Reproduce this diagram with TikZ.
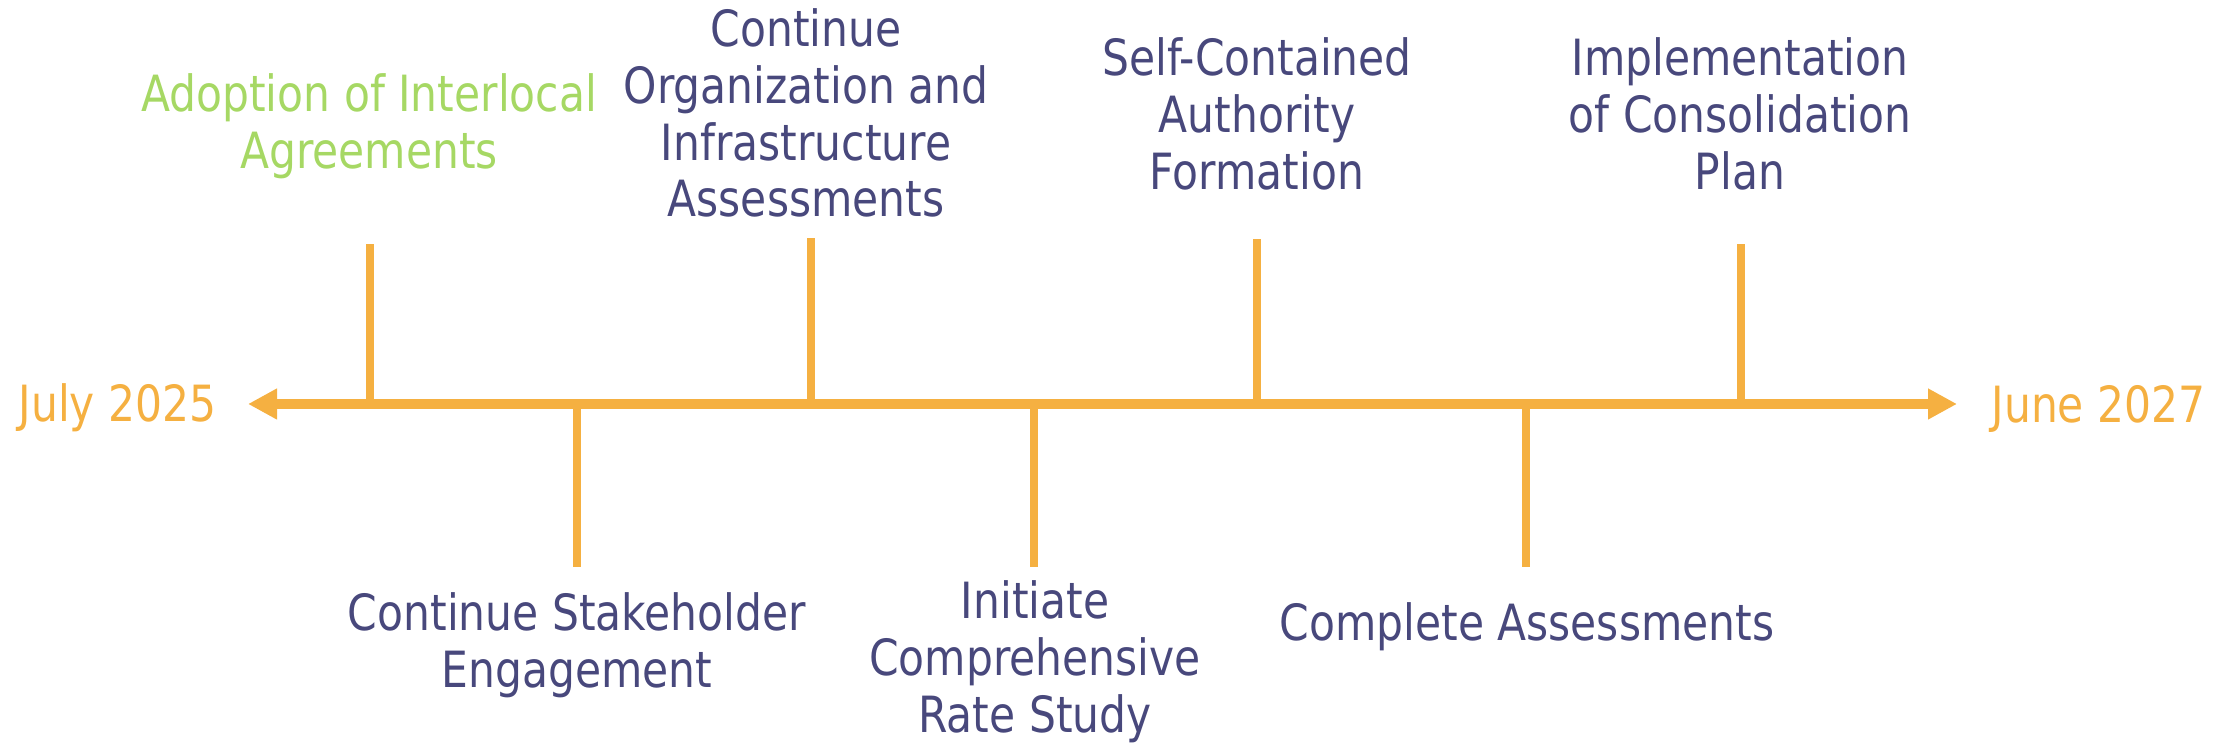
\documentclass[tikz,border=0pt]{standalone}
\usepackage{fontspec}
\setmainfont{DejaVu Sans}[FakeStretch=0.85]
\usetikzlibrary{positioning,arrows.meta,calc}
\definecolor{lineorange}{HTML}{F5B041}
\definecolor{stepgreen}{HTML}{A6D864}
\definecolor{stepblue}{HTML}{48487C}

\begin{document}
\begin{tikzpicture}[
    font=\fontsize{14.2}{16.2}\selectfont,
    milestone/.style={text=stepblue, align=center, inner sep=0pt},
    datelabel/.style={text=lineorange, inner sep=0pt},
    stem/.style={draw=lineorange, line width=0.085cm}
]

    \useasboundingbox (0,0) rectangle (22.34,7.45);

    % Time axis with arrow heads at both ends
    \coordinate (start) at (2.48,3.41);
    \coordinate (end) at (19.57,3.41);
    \draw[
        draw=lineorange,
        line width=0.095cm,
        {Triangle[length=0.29cm,width=0.29cm]}-{Triangle[length=0.29cm,width=0.29cm]}
    ] (start) -- (end);

    % Start and end dates
    \node[datelabel, anchor=base] (from) at (1.175,3.23) {July 2025};
    \node[datelabel, anchor=base] (to) at (20.985,3.22) {June 2027};

    % Milestones above the axis
    \node[milestone, text=stepgreen] (adopt) at (3.69,6.19) {Adoption of Interlocal\\Agreements};
    \node[milestone] (orgassess) at (8.06,6.32) {Continue\\Organization and\\Infrastructure\\Assessments};
    \node[milestone] (authority) at (12.57,6.31) {Self-Contained\\Authority\\Formation};
    \node[milestone] (consolidation) at (17.40,6.31) {Implementation\\of Consolidation\\Plan};

    % Milestones below the axis
    \node[milestone] (stakeholder) at (5.77,1.00) {Continue Stakeholder\\Engagement};
    \node[milestone] (ratestudy) at (10.35,0.83) {Initiate\\Comprehensive\\Rate Study};
    \node[milestone] (completeassess) at (15.27,1.18) {Complete Assessments};

    % Stems: point on the axis and free end
    \coordinate (a1) at (3.70,3.41);   \coordinate (e1) at (3.70,5.01);
    \coordinate (a2) at (5.77,3.41);   \coordinate (e2) at (5.77,1.78);
    \coordinate (a3) at (8.11,3.41);   \coordinate (e3) at (8.11,5.07);
    \coordinate (a4) at (10.34,3.41);  \coordinate (e4) at (10.34,1.78);
    \coordinate (a5) at (12.57,3.41);  \coordinate (e5) at (12.57,5.06);
    \coordinate (a6) at (15.26,3.41);  \coordinate (e6) at (15.26,1.78);
    \coordinate (a7) at (17.41,3.41);  \coordinate (e7) at (17.41,5.01);
    \foreach \i in {1,...,7}
        \draw[stem] (a\i) -- (e\i);

\end{tikzpicture}
\end{document}
